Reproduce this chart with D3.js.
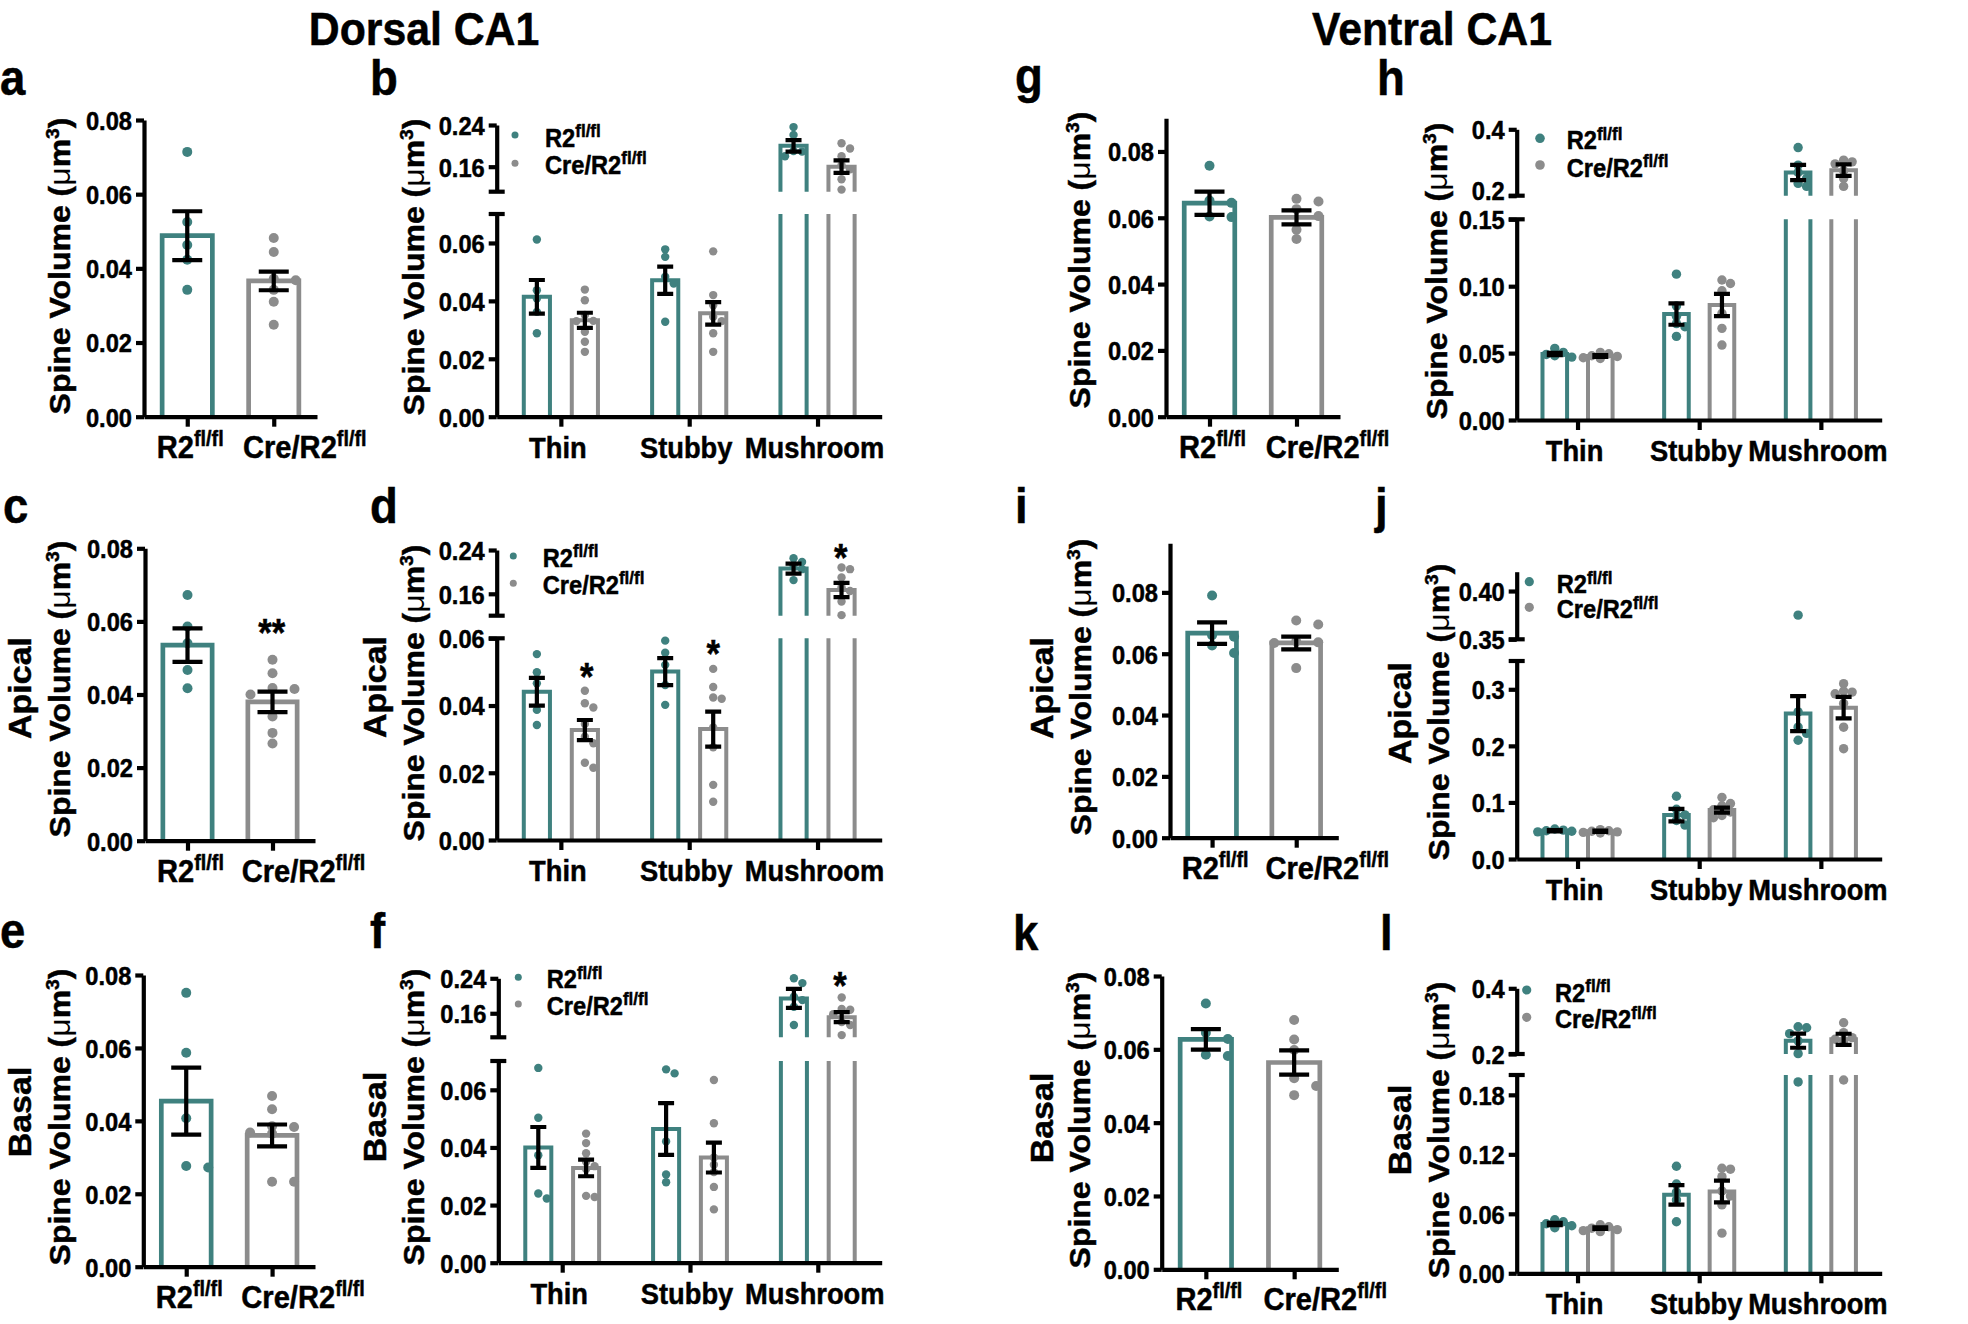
<!DOCTYPE html>
<html><head><meta charset="utf-8">
<script src="https://cdn.jsdelivr.net/npm/d3@7"></script>
<style>
html,body{margin:0;padding:0;background:#fff;}
svg{display:block;}
text{font-family:"Liberation Sans", Arial, sans-serif; font-weight:bold; fill:#000; stroke:#000; stroke-width:0.5px;}
</style></head><body>
<svg id="fig" width="1968" height="1324"></svg>
<script>
// ================= DATA =================
const groupNames = ["R2", "Cre/R2"];
const groupSup = "fl/fl";
const spineTypes = ["Thin", "Stubby", "Mushroom"];
const sectionTitles = ["Dorsal CA1", "Ventral CA1"];

// --- a: dorsal total ---
const a_mean = [0.0488, 0.0366];
const a_sem = [0.0066, 0.0025];
const a_pts_R2 = [0.0714, 0.0525, 0.0463, 0.0423, 0.0342];
const a_pts_Cre = [0.0482, 0.0444, 0.0372, 0.0368, 0.0342, 0.031, 0.0248];

// --- b: dorsal by type ---
const b_mean_R2 = [0.0414, 0.0471, 0.200];
const b_sem_R2 = [0.0058, 0.0047, 0.011];
const b_mean_Cre = [0.0333, 0.0357, 0.160];
const b_sem_Cre = [0.0026, 0.0039, 0.012];
const b_pts_R2 = [[0.0612, 0.0437, 0.0408, 0.0362, 0.0288], [0.0578, 0.0552, 0.0483, 0.046, 0.0328], [0.236, 0.221, 0.19, 0.189, 0.18]];
const b_pts_Cre = [[0.0439, 0.0402, 0.0351, 0.0331, 0.033, 0.0293, 0.0259, 0.0224], [0.0571, 0.042, 0.0385, 0.0345, 0.033, 0.0288, 0.0224], [0.205, 0.195, 0.18, 0.163, 0.155, 0.136, 0.116]];

// --- c: dorsal apical ---
const c_mean = [0.0535, 0.038];
const c_sem = [0.0046, 0.0028];
const c_pts_R2 = [0.0672, 0.0586, 0.054, 0.0467, 0.0417];
const c_pts_Cre = [0.0495, 0.0458, 0.0418, 0.0415, 0.04, 0.034, 0.0295, 0.0266];

// --- d: dorsal apical by type ---
const d_mean_R2 = [0.0441, 0.0501, 0.206];
const d_sem_R2 = [0.0041, 0.004, 0.009];
const d_mean_Cre = [0.0327, 0.0330, 0.167];
const d_sem_Cre = [0.0030, 0.0052, 0.013];
const d_pts_R2 = [[0.0553, 0.0499, 0.0466, 0.0387, 0.0342], [0.0593, 0.0557, 0.0521, 0.0461, 0.0402], [0.225, 0.218, 0.212, 0.205, 0.185]];
const d_pts_Cre = [[0.0444, 0.0407, 0.0394, 0.0345, 0.0307, 0.0288, 0.023, 0.0215], [0.0509, 0.0455, 0.0424, 0.042, 0.0335, 0.0276, 0.0164, 0.0114], [0.208, 0.205, 0.19, 0.172, 0.165, 0.146, 0.121]];

// --- e: dorsal basal ---
const e_mean = [0.0454, 0.036];
const e_sem = [0.0092, 0.003];
const e_pts_R2 = [0.0751, 0.0587, 0.0407, 0.0276, 0.0272];
const e_pts_Cre = [0.0468, 0.0432, 0.0385, 0.0383, 0.0368, 0.0365, 0.0233, 0.0233];

// --- f: dorsal basal by type ---
const f_mean_R2 = [0.0400, 0.0464, 0.194];
const f_sem_R2 = [0.0071, 0.0090, 0.0217];
const f_mean_Cre = [0.0329, 0.0365, 0.151];
const f_sem_Cre = [0.0029, 0.0052, 0.0115];
const f_pts_R2 = [[0.0676, 0.0503, 0.0373, 0.024, 0.0223], [0.0671, 0.0657, 0.0421, 0.0306, 0.0279], [0.253, 0.229, 0.198, 0.19, 0.175, 0.133]];
const f_pts_Cre = [[0.0448, 0.0415, 0.038, 0.035, 0.0335, 0.0325, 0.0232, 0.0228], [0.0634, 0.0484, 0.0365, 0.034, 0.0315, 0.0263, 0.0185], [0.196, 0.17, 0.168, 0.158, 0.14, 0.133, 0.11]];

// --- g: ventral total ---
const g_mean = [0.0644, 0.0601];
const g_sem = [0.0035, 0.0021];
const g_pts_R2 = [0.0757, 0.0652, 0.0645, 0.0604, 0.0602];
const g_pts_Cre = [0.0657, 0.0649, 0.0626, 0.0605, 0.0564, 0.0536];

// --- h: ventral by type ---
const h_mean_R2 = [0.0493, 0.0792, 0.270];
const h_sem_R2 = [0.0008, 0.0080, 0.023];
const h_mean_Cre = [0.0478, 0.0860, 0.277];
const h_sem_Cre = [0.0007, 0.0083, 0.0175];
const h_pts_R2 = [[0.0535, 0.0505, 0.049, 0.048, 0.047], [0.109, 0.0852, 0.0775, 0.072, 0.0697, 0.0625], [0.345, 0.292, 0.27, 0.252, 0.237, 0.228]];
const h_pts_Cre = [[0.0505, 0.0495, 0.048, 0.0475, 0.0465, 0.046], [0.1046, 0.102, 0.0966, 0.0797, 0.0685, 0.056], [0.307, 0.302, 0.296, 0.275, 0.252, 0.228]];

// --- i: ventral apical ---
const i_mean = [0.0667, 0.0635];
const i_sem = [0.0035, 0.0021];
const i_pts_R2 = [0.079, 0.066, 0.0655, 0.0627, 0.0602];
const i_pts_Cre = [0.0708, 0.0695, 0.064, 0.0637, 0.0635, 0.0553];

// --- j: ventral apical by type ---
const j_mean_R2 = [0.050, 0.0776, 0.257];
const j_sem_R2 = [0.001, 0.011, 0.031];
const j_mean_Cre = [0.049, 0.0864, 0.2675];
const j_sem_Cre = [0.001, 0.0045, 0.019];
const j_pts_R2 = [[0.053, 0.051, 0.05, 0.049, 0.048], [0.111, 0.088, 0.078, 0.068, 0.06], [0.375, 0.26, 0.233, 0.222, 0.21]];
const j_pts_Cre = [[0.052, 0.05, 0.049, 0.048, 0.047, 0.046], [0.109, 0.098, 0.094, 0.087, 0.083, 0.077, 0.073], [0.31, 0.297, 0.295, 0.292, 0.275, 0.233, 0.195]];

// --- k: ventral basal ---
const k_mean = [0.0627, 0.0564];
const k_sem = [0.0028, 0.0033];
const k_pts_R2 = [0.0725, 0.0645, 0.0628, 0.0585, 0.0582];
const k_pts_Cre = [0.068, 0.0627, 0.0598, 0.0521, 0.05, 0.0475];

// --- l: ventral basal by type ---
const l_mean_R2 = [0.0498, 0.0791, 0.2405];
const l_sem_R2 = [0.0012, 0.0098, 0.0215];
const l_mean_Cre = [0.0455, 0.0825, 0.2447];
const l_sem_Cre = [0.0008, 0.011, 0.017];
const l_pts_R2 = [[0.054, 0.052, 0.05, 0.048, 0.046], [0.108, 0.09, 0.082, 0.074, 0.052], [0.283, 0.28, 0.262, 0.24, 0.201, 0.193]];
const l_pts_Cre = [[0.049, 0.047, 0.0455, 0.044, 0.043, 0.042], [0.106, 0.105, 0.0975, 0.083, 0.078, 0.069, 0.0405], [0.295, 0.265, 0.25, 0.245, 0.24, 0.195]];

// ================= STYLE / LAYOUT =================
const SX = 0.91;               // horizontal squeeze of the original figure
const TEAL = "#3f817f", GRAY = "#8c8c8c";
const groupColors = [TEAL, GRAY];
const AW = 4.2, TL = 8, TICK_FS = 26, CAT_FS = 30, PAIR_FS = 32, TITLE_FS = 32, REGION_FS = 34, LEG_FS = 26, LETTER_FS = 50, STAR_FS = 38;

const svg = d3.select("#fig");

function addText(g, x, y, parts, size, o = {}) {
  const t = g.append("text")
    .attr("transform", `translate(${x},${y}) scale(${SX},1)` + (o.rot ? ` rotate(${o.rot})` : ""))
    .attr("font-size", size)
    .attr("text-anchor", o.anchor || "start");
  const supR = o.supR || 0.6;
  let raised = false;
  parts.forEach(p => {
    const s = t.append("tspan").text(p.t);
    if (p.sup) { s.attr("font-size", size * supR).attr("dy", -size * 0.37); raised = true; }
    else if (raised) { s.attr("dy", size * 0.37); raised = false; }
    if (p.w) s.attr("font-weight", p.w).attr("stroke-width", 0);
  });
  return t;
}
const spineTitle = [{t: "Spine Volume ("}, {t: "\u03bc", w: "normal"}, {t: "m"}, {t: "3", sup: true}, {t: ")"}];
const groupLabel = gi => [{t: groupNames[gi]}, {t: groupSup, sup: true}];

const panels = [
  {letter: "a", lx: 0, ly: 95, type: "pair", means: a_mean, sems: a_sem, pts: [a_pts_R2, a_pts_Cre],
   axisX: 144, xEnd: 317, segs: [{lo: 0, hi: 0.08, yLo: 416.7, yHi: 120, ticks: [0, .02, .04, .06, .08], fmt: ".2f"}],
   titles: [{k: "spine", x: 70, y: 266}], stars: []},
  {letter: "b", lx: 370, ly: 95, type: "group", means: [b_mean_R2, b_mean_Cre], sems: [b_sem_R2, b_sem_Cre], pts: [b_pts_R2, b_pts_Cre],
   axisX: 496.7, xEnd: 881.7,
   segs: [{lo: 0, hi: 0.07, yLo: 416.7, yHi: 214, ticks: [0, .02, .04, .06], fmt: ".2f", capHi: true},
          {lo: 0.112, hi: 0.24, yLo: 191.7, yHi: 125, ticks: [.16, .24], fmt: ".2f", capLo: true}],
   titles: [{k: "spine", x: 424, y: 267}], legend: {dx: 515, dy: [135, 163.3], tx: 545, ty: [146.7, 174], r: 3.5}, stars: []},
  {letter: "g", lx: 1015, ly: 93, type: "pair", means: g_mean, sems: g_sem, pts: [g_pts_R2, g_pts_Cre],
   axisX: 1166, xEnd: 1340, segs: [{lo: 0, hi: 0.09, yLo: 416.7, yHi: 118.3, ticks: [0, .02, .04, .06, .08], fmt: ".2f"}],
   titles: [{k: "spine", x: 1090, y: 260}], stars: []},
  {letter: "h", lx: 1377, ly: 95, type: "group", means: [h_mean_R2, h_mean_Cre], sems: [h_sem_R2, h_sem_Cre], pts: [h_pts_R2, h_pts_Cre],
   axisX: 1516.7, xEnd: 1881.7,
   segs: [{lo: 0, hi: 0.15, yLo: 420, yHi: 219.3, ticks: [0, .05, .10, .15], fmt: ".2f", capHi: true},
          {lo: 0.2, hi: 0.4, yLo: 195.7, yHi: 129.3, ticks: [.2, .4], fmt: ".1f", capLo: true, loLabelDy: -6}],
   titles: [{k: "spine", x: 1447, y: 271}], legend: {dx: 1540, dy: [138.3, 165], tx: 1566.7, ty: [149.3, 176.7], r: 4.8}, stars: []},

  {letter: "c", lx: 3, ly: 523, type: "pair", means: c_mean, sems: c_sem, pts: [c_pts_R2, c_pts_Cre],
   axisX: 145, xEnd: 315, segs: [{lo: 0, hi: 0.08, yLo: 840.7, yHi: 548.3, ticks: [0, .02, .04, .06, .08], fmt: ".2f"}],
   titles: [{k: "Apical", x: 31, y: 688}, {k: "spine", x: 70, y: 689}], stars: [{t: "**", x: 271.7, y: 646}]},
  {letter: "d", lx: 370, ly: 523, type: "group", means: [d_mean_R2, d_mean_Cre], sems: [d_sem_R2, d_sem_Cre], pts: [d_pts_R2, d_pts_Cre],
   axisX: 496.7, xEnd: 881.7,
   segs: [{lo: 0, hi: 0.06, yLo: 840, yHi: 638.3, ticks: [0, .02, .04, .06], fmt: ".2f", capHi: true},
          {lo: 0.12, hi: 0.24, yLo: 615.7, yHi: 550, ticks: [.16, .24], fmt: ".2f", capLo: true}],
   titles: [{k: "Apical", x: 386, y: 687}, {k: "spine", x: 424, y: 693}],
   legend: {dx: 513.3, dy: [556, 583.3], tx: 542.7, ty: [566.7, 594], r: 3.5},
   stars: [{t: "*", x: 586.7, y: 690}, {t: "*", x: 713.3, y: 667}, {t: "*", x: 840.7, y: 571}]},
  {letter: "i", lx: 1015, ly: 523, type: "pair", means: i_mean, sems: i_sem, pts: [i_pts_R2, i_pts_Cre],
   axisX: 1170, xEnd: 1338.3, segs: [{lo: 0, hi: 0.096, yLo: 837.7, yHi: 543.3, ticks: [0, .02, .04, .06, .08], fmt: ".2f"}],
   titles: [{k: "Apical", x: 1053, y: 688}, {k: "spine", x: 1091, y: 687}], stars: []},
  {letter: "j", lx: 1375, ly: 523, type: "group", means: [j_mean_R2, j_mean_Cre], sems: [j_sem_R2, j_sem_Cre], pts: [j_pts_R2, j_pts_Cre],
   axisX: 1516.7, xEnd: 1881.7,
   segs: [{lo: 0, hi: 0.35, yLo: 859, yHi: 661, ticks: [0, .1, .2, .3], fmt: ".1f", capHi: true},
          {lo: 0.35, hi: 0.42, yLo: 639.3, yHi: 571.7, ticks: [.35, .40], fmt: ".2f", capLo: true}],
   titles: [{k: "Apical", x: 1411, y: 713}, {k: "spine", x: 1449, y: 712}],
   legend: {dx: 1529.3, dy: [581.7, 607.3], tx: 1556.7, ty: [593.3, 618.3], r: 4.6}, stars: []},

  {letter: "e", lx: 0, ly: 948, type: "pair", means: e_mean, sems: e_sem, pts: [e_pts_R2, e_pts_Cre],
   axisX: 143.3, xEnd: 315, segs: [{lo: 0, hi: 0.08, yLo: 1266.7, yHi: 975, ticks: [0, .02, .04, .06, .08], fmt: ".2f"}],
   titles: [{k: "Basal", x: 31, y: 1112}, {k: "spine", x: 70, y: 1117}], stars: []},
  {letter: "f", lx: 370, ly: 948, type: "group", means: [f_mean_R2, f_mean_Cre], sems: [f_sem_R2, f_sem_Cre], pts: [f_pts_R2, f_pts_Cre],
   axisX: 498.3, xEnd: 881.7,
   segs: [{lo: 0, hi: 0.07, yLo: 1262.7, yHi: 1061, ticks: [0, .02, .04, .06], fmt: ".2f", capHi: true},
          {lo: 0.105, hi: 0.24, yLo: 1037.3, yHi: 978.3, ticks: [.16, .24], fmt: ".2f", capLo: true}],
   titles: [{k: "Basal", x: 386, y: 1117}, {k: "spine", x: 424, y: 1117}],
   legend: {dx: 518.3, dy: [977.3, 1004], tx: 546.7, ty: [988.3, 1015], r: 3.5},
   stars: [{t: "*", x: 840, y: 999}]},
  {letter: "k", lx: 1013, ly: 950, type: "pair", means: k_mean, sems: k_sem, pts: [k_pts_R2, k_pts_Cre],
   axisX: 1161.7, xEnd: 1338.3, segs: [{lo: 0, hi: 0.08, yLo: 1269.3, yHi: 976, ticks: [0, .02, .04, .06, .08], fmt: ".2f"}],
   titles: [{k: "Basal", x: 1053, y: 1118}, {k: "spine", x: 1090, y: 1120}], stars: []},
  {letter: "l", lx: 1380, ly: 950, type: "group", means: [l_mean_R2, l_mean_Cre], sems: [l_sem_R2, l_sem_Cre], pts: [l_pts_R2, l_pts_Cre],
   axisX: 1516.7, xEnd: 1881.7,
   segs: [{lo: 0, hi: 0.2, yLo: 1273.3, yHi: 1075, ticks: [0, .06, .12, .18], fmt: ".2f", capHi: true},
          {lo: 0.2, hi: 0.4, yLo: 1054, yHi: 988.3, ticks: [.2, .4], fmt: ".1f", capLo: true}],
   titles: [{k: "Basal", x: 1411, y: 1130}, {k: "spine", x: 1449, y: 1130}],
   legend: {dx: 1526.7, dy: [990, 1017.3], tx: 1555, ty: [1001.7, 1028.3], r: 4.6}, stars: []}
];

// ================= HELPERS =================
function segOf(segs, v) {
  for (const s of segs) if (v >= s.lo && v <= s.hi) return s;
  if (v < segs[0].lo) return segs[0];
  for (let i = 0; i < segs.length - 1; i++) if (v > segs[i].hi && v < segs[i + 1].lo) return segs[i];
  return segs[segs.length - 1];
}
function yOf(segs, v) { const s = segOf(segs, v); return s.scale(Math.max(s.lo, Math.min(s.hi, v))); }

function drawBar(g, cx, w, sw, v, segs, color) {
  segs.forEach(s => {
    if (v <= s.lo) return;
    const top = Math.min(v, s.hi);
    const yb = s.scale(s.lo), yt = s.scale(top);
    const l = cx - w / 2 + sw / 2, r = cx + w / 2 - sw / 2;
    const d = v <= s.hi ? `M${l},${yb}V${yt}H${r}V${yb}` : `M${l},${yb}V${yt}M${r},${yt}V${yb}`;
    g.append("path").attr("d", d).attr("fill", "none").attr("stroke", color).attr("stroke-width", sw);
  });
}
function drawErr(g, cx, m, e, segs, cap, sw) {
  const s = segOf(segs, m);
  const y1 = s.scale(Math.max(m - e, s.lo)), y2 = s.scale(Math.min(m + e, s.hi));
  g.append("path").attr("d", `M${cx},${y1}V${y2}M${cx - cap},${y1}H${cx + cap}M${cx - cap},${y2}H${cx + cap}`)
    .attr("stroke", "#000").attr("stroke-width", sw).attr("fill", "none");
}
function swarm(vals, segs, dx, minDy, order) {
  const arr = vals.map(v => ({v, y: yOf(segs, v)})).sort((a, b) => a.y - b.y);
  const placed = [];
  arr.forEach(p => {
    let k = order.find(o => !placed.some(q => q.k === o && Math.abs(q.y - p.y) < minDy));
    if (k === undefined) k = 0;
    p.k = k; placed.push(p);
  });
  return arr.map(p => ({y: p.y, off: p.k * dx}));
}

// ================= DRAW =================
addText(svg, 424, 45, [{t: sectionTitles[0]}], 47, {anchor: "middle"});
addText(svg, 1432, 45, [{t: sectionTitles[1]}], 47, {anchor: "middle"});

panels.forEach(P => {
  const g = svg.append("g");
  P.segs.forEach(s => s.scale = d3.scaleLinear().domain([s.lo, s.hi]).range([s.yLo, s.yHi]));
  const base = P.segs[0].yLo;
  const isPair = P.type === "pair";
  const cats = isPair ? groupNames : spineTypes;
  const x = d3.scalePoint().domain(cats).range([P.axisX, P.xEnd]).padding(0.5);
  const step = x.step();
  const barW = isPair ? step * 0.635 : step * 0.235;
  const sw = isPair ? 4.7 : 4;
  const r = isPair ? 5 : (step > 125 ? 4.2 : 4.7);
  const cap = isPair ? 15 : 8;
  const dxs = isPair ? 22 : 8.5;
  const minDy = isPair ? 9 : 7;
  const order = isPair ? [0, 1, -1] : [0, 1, -1, 2, -2];
  const sub = d3.scalePoint().domain(groupNames).range([-step * 0.187, step * 0.187]);

  const items = [];
  if (isPair) {
    groupNames.forEach((gn, gi) => items.push({cx: x(gn), m: P.means[gi], e: P.sems[gi], pts: P.pts[gi], color: groupColors[gi]}));
  } else {
    spineTypes.forEach((c, ci) => groupNames.forEach((gn, gi) =>
      items.push({cx: x(c) + sub(gn), m: P.means[gi][ci], e: P.sems[gi][ci], pts: P.pts[gi][ci], color: groupColors[gi]})));
  }
  // bars
  items.forEach(it => drawBar(g, it.cx, barW, sw, it.m, P.segs, it.color));
  // points
  items.forEach(it => {
    g.selectAll(null).data(swarm(it.pts, P.segs, dxs, minDy, order)).enter().append("circle")
      .attr("cx", d => it.cx + d.off).attr("cy", d => d.y).attr("r", r).attr("fill", it.color);
  });
  // error bars
  items.forEach(it => drawErr(g, it.cx, it.m, it.e, P.segs, cap, 4.2));

  // y axes
  P.segs.forEach(s => {
    const ax = d3.axisLeft(s.scale).tickValues(s.ticks).tickSize(TL).tickSizeOuter(0)
      .tickFormat(d3.format(s.fmt)).tickPadding(0);
    const ag = g.append("g").attr("transform", `translate(${P.axisX},0)`).call(ax);
    ag.attr("font-size", null).attr("font-family", null);
    ag.select("path.domain").attr("stroke", "#000").attr("stroke-width", AW);
    ag.selectAll(".tick line").attr("stroke", "#000").attr("stroke-width", AW);
    ag.selectAll(".tick text").attr("x", null).attr("dy", null)
      .attr("transform", d => `translate(-12,${0.36 * TICK_FS + (d === s.lo && s.loLabelDy ? s.loLabelDy : 0)}) scale(${SX},1)`)
      .attr("font-size", TICK_FS).attr("fill", "#000").attr("text-anchor", "end");
    if (s.capHi) g.append("line").attr("x1", P.axisX - 8).attr("x2", P.axisX + 8).attr("y1", s.yHi).attr("y2", s.yHi).attr("stroke", "#000").attr("stroke-width", AW);
    if (s.capLo) g.append("line").attr("x1", P.axisX - 8).attr("x2", P.axisX + 8).attr("y1", s.yLo).attr("y2", s.yLo).attr("stroke", "#000").attr("stroke-width", AW);
  });
  // x axis
  const xg = g.append("g").attr("transform", `translate(0,${base})`)
    .call(d3.axisBottom(x).tickSize(10).tickSizeOuter(0).tickFormat(""));
  xg.select("path.domain").attr("stroke", "#000").attr("stroke-width", AW);
  xg.selectAll(".tick line").attr("stroke", "#000").attr("stroke-width", AW);

  // category labels
  if (isPair) {
    const ldx = [3, 31];
    groupNames.forEach((gn, gi) => addText(g, x(gn) + ldx[gi], base + 41, groupLabel(gi), PAIR_FS, {anchor: "middle", supR: 0.68}));
  } else {
    spineTypes.forEach(c => addText(g, x(c) - 3, base + 41, [{t: c}], CAT_FS, {anchor: "middle"}));
  }
  // axis titles
  P.titles.forEach(t => {
    if (t.k === "spine") addText(g, t.x, t.y, spineTitle, TITLE_FS, {anchor: "middle", rot: -90});
    else addText(g, t.x, t.y, [{t: t.k}], REGION_FS, {anchor: "middle", rot: -90});
  });
  // legend
  if (P.legend) {
    const L = P.legend;
    groupNames.forEach((gn, gi) => {
      g.append("circle").attr("cx", L.dx).attr("cy", L.dy[gi]).attr("r", L.r).attr("fill", groupColors[gi]);
      addText(g, L.tx, L.ty[gi], groupLabel(gi), LEG_FS, {supR: 0.72});
    });
  }
  // stars
  P.stars.forEach(s => addText(g, s.x, s.y, [{t: s.t}], STAR_FS, {anchor: "middle"}));
  // letter
  addText(g, P.lx, P.ly, [{t: P.letter}], LETTER_FS);
});
</script>
</body></html>
